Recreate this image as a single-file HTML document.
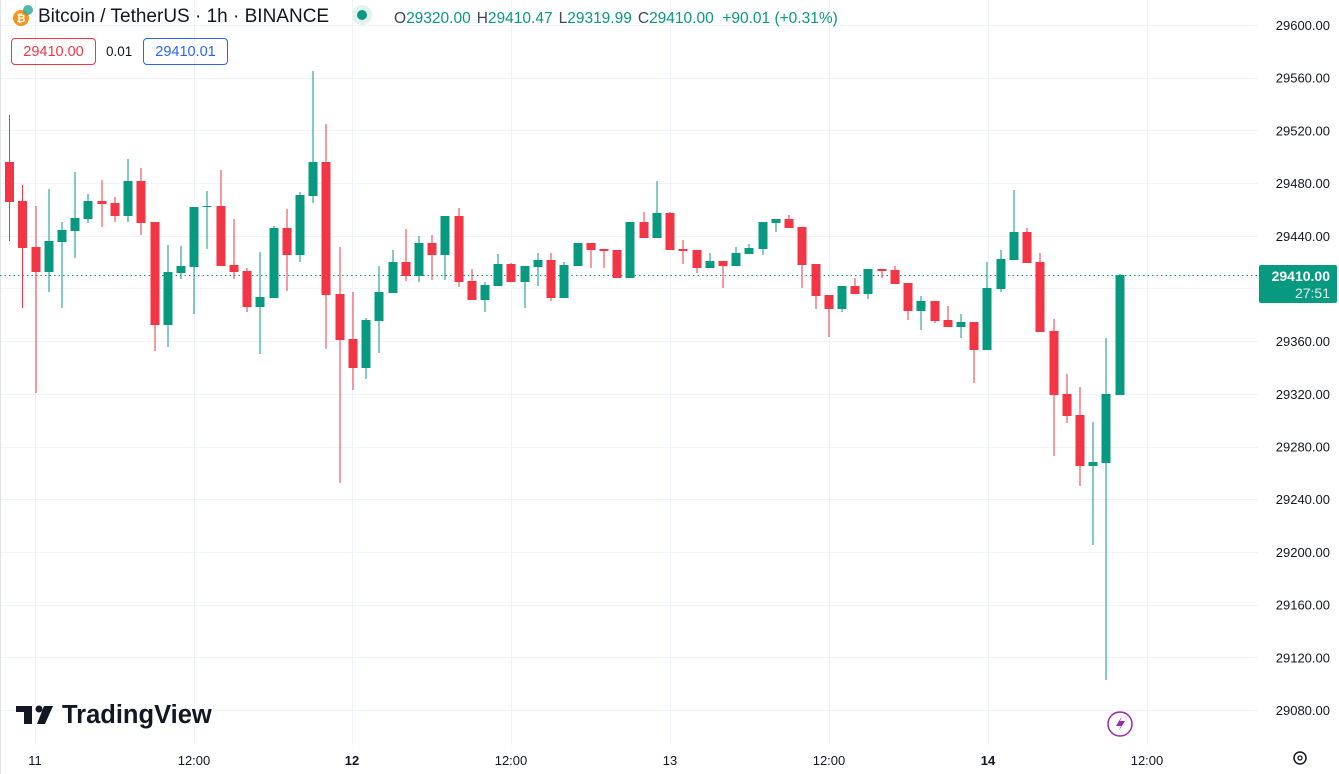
<!DOCTYPE html>
<html><head><meta charset="utf-8"><style>
body{margin:0;width:1339px;height:774px;overflow:hidden;background:#fff;font-family:"Liberation Sans",sans-serif}
svg{position:absolute;left:0;top:0}
.hdr{position:absolute;left:38px;top:6px;font-size:19px;color:#131722;white-space:nowrap}
.ohlc{position:absolute;left:394px;top:10px;font-size:15.5px;color:#089981;white-space:nowrap}
.ohlc b{font-weight:normal;color:#434651;margin-left:6px}
.box{position:absolute;top:38px;height:27px;line-height:27px;font-size:14.5px;border-radius:4px;text-align:center;box-sizing:border-box}
</style></head><body>
<svg width="1339" height="774" id="s">
<g id="grid" stroke="#f0f3fa" stroke-width="1"></g>
<line x1="0.5" y1="0" x2="0.5" y2="774" stroke="#e0e3eb"/>
<line x1="0" y1="275.5" x2="1258" y2="275.5" stroke="#089981" stroke-dasharray="1.5,3"/>
<g id="c"></g>
<g font-size="13" fill="#131722" text-anchor="end" id="pl"></g>
<rect x="1259" y="265" width="78" height="38" rx="2" fill="#089981"/>
<text x="1330" y="281" font-size="14" fill="#fff" text-anchor="end" font-weight="bold">29410.00</text>
<text x="1330" y="298" font-size="14" fill="#e0f2ee" text-anchor="end">27:51</text>
<g font-size="13" fill="#131722" text-anchor="middle">
<text x="35" y="765">11</text><text x="194" y="765">12:00</text><text x="352" y="765" font-weight="bold">12</text><text x="511" y="765">12:00</text><text x="670" y="765">13</text><text x="829" y="765">12:00</text><text x="988" y="765" font-weight="bold">14</text><text x="1147" y="765">12:00</text>
</g>
<circle cx="1300" cy="758" r="6" fill="none" stroke="#131722" stroke-width="1.5"/><circle cx="1300" cy="758" r="2" fill="none" stroke="#131722" stroke-width="1.3"/>
<circle cx="1120" cy="724" r="12" fill="none" stroke="#9c27b0" stroke-width="1.5"/>
<path d="M1122 716 L1116 726 L1121 726 L1118 732 L1125 721 L1120 721 Z" fill="#9c27b0"/>
<circle cx="21" cy="18" r="8" fill="#f7931a"/><text x="21" y="22" font-size="11" fill="#fff" text-anchor="middle" font-weight="bold">₿</text>
<circle cx="28" cy="10" r="5" fill="#26a69a" opacity="0.8"/>
<circle cx="362" cy="15" r="10" fill="#e3f2ef"/><circle cx="362" cy="15" r="5" fill="#089981"/>
<g fill="#131722"><rect x="16" y="706" width="16" height="6"/><rect x="24" y="706" width="8" height="18"/><circle cx="39" cy="709" r="3.5"/><path d="M44 706 L53 706 L45 724 L37 724 Z"/></g>
<text x="62" y="723" font-size="25.5" font-weight="bold" fill="#131722">TradingView</text>
</svg>
<div class="hdr">Bitcoin / TetherUS · 1h · BINANCE</div>
<div class="ohlc"><b style="margin-left:0">O</b>29320.00<b>H</b>29410.47<b>L</b>29319.99<b>C</b>29410.00 &nbsp;+90.01 (+0.31%)</div>
<div class="box" style="left:11px;width:85px;border:1px solid #f23645;color:#f23645">29410.00</div>
<div style="position:absolute;left:106px;top:44px;font-size:13.5px;color:#131722">0.01</div>
<div class="box" style="left:143px;width:85px;border:1px solid #2962ff;color:#2962ff">29410.01</div>
<script>
var NS="http://www.w3.org/2000/svg";
function el(p,t,a){var e=document.createElementNS(NS,t);for(var k in a)e.setAttribute(k,a[k]);p.appendChild(e);return e;}
var g=document.getElementById('grid');
for(var k=0;k<14;k++){var y=Math.round(25+k*52.69)+0.5;el(g,'line',{x1:0,y1:y,x2:1258,y2:y});}
[35,194,352,511,670,829,988,1147].forEach(function(x){el(g,'line',{x1:x+0.5,y1:0,x2:x+0.5,y2:745});});
var pl=document.getElementById('pl');
for(var k=0;k<14;k++){var y=25+k*52.69;var t=el(pl,'text',{x:1330,y:y+5});t.textContent=(29600-40*k).toFixed(2);}
var C=[[9.5,0,162,202,115,241],[22.5,0,201,248,185,308],[36,0,247,272,206,393],[49,1,241,272,189,292],[62,1,230,242,222,308],[75,1,218,231,172,258],[88,1,201,219,194,223],[102,0,201,204,180,227],[115,0,203,216,197,222],[128,1,181,216,159,222],[141,0,181,223,168,235],[155,0,222,325,222,351],[168,1,272,325,245,347],[181,1,266,273,246,279],[194,1,207,267,207,314],[207,1,206,207,191,249],[221,0,206,266,170,266],[234,0,265,272,219,279],[247,0,271,307,268,312],[260,1,297,307,252,354],[274,1,228,298,226,298],[287,0,228,255,209,291],[300,1,195,255,192,262],[313,1,162,196,71,203],[326,0,162,295,124,349],
[340,0,294,340,247,483],[353,0,339,368,292,390],[366,1,320,368,318,379],[379,1,292,321,266,353],[393,1,262,293,250,293],[406,0,262,276,229,281],[419,1,243,276,236,282],[432,0,243,255,235,280],[445,1,216,255,216,280],[459,0,216,282,208,287],[472,0,281,300,269,300],[485,1,285,300,282,312],[498,1,264,286,254,286],[511,0,264,282,263,282],[525,1,266,282,266,308],[538,1,260,267,253,286],[551,0,260,298,253,301],[564,1,265,298,262,298],[578,1,243,266,243,266],[591,0,243,250,243,268],[604,0,249,251,249,268],[617,0,250,278,250,278],[630,1,222,278,222,278],[644,0,222,238,212,238],[657,1,213,238,181,238],
[670,0,213,250,212,250],[683,0,249,251,240,264],[697,0,250,268,250,273],[710,1,261,268,253,268],[723,0,261,266,261,288],[736,1,253,266,247,266],[749,1,248,254,244,254],[763,1,222,249,222,255],[776,1,219,223,219,232],[789,0,219,228,215,228],[802,0,227,265,227,288],[816,0,264,296,264,309],[829,0,295,309,295,337],[842,1,286,309,286,312],[855,0,286,294,278,294],[868,1,269,294,269,299],[882,0,269,271,269,278],[895,0,270,284,266,284],[908,0,283,311,283,320],[921,1,301,311,296,330],[935,0,301,321,301,323],[948,0,320,327,306,327],[961,1,322,327,314,338],[974,0,322,350,322,383],[987,1,288,350,262,350],
[1001,1,259,289,250,292],[1014,1,232,260,190,260],[1027,0,232,263,228,263],[1040,0,262,332,253,332],[1054,0,331,395,319,456],[1067,0,394,416,374,423],[1080,0,415,466,387,486],[1093,1,462,466,422,545],[1106,1,394,463,338,680],[1120,1,275,395,274,395]];
var cg=document.getElementById('c');
C.forEach(function(c){var col=c[1]?'#089981':'#f23645';
el(cg,'rect',{x:c[0]-0.5,y:c[4],width:1,height:c[5]-c[4],fill:col});
el(cg,'rect',{x:c[0]-4.5,y:c[2],width:9,height:Math.max(1,c[3]-c[2]),fill:col});});
</script>
</body></html>
